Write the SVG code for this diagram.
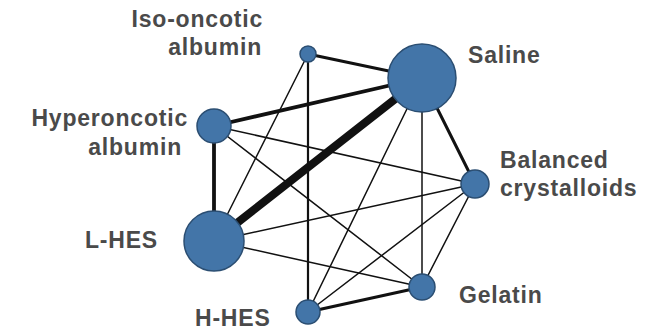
<svg xmlns="http://www.w3.org/2000/svg" width="656" height="332" viewBox="0 0 656 332">
<style>
.e{stroke:#111;fill:none;stroke-linecap:round}
.t1{stroke-width:1.5}
.t2{stroke-width:2.2}
.t3{stroke-width:3}
.t4{stroke-width:3.8}
.t8{stroke-width:8}
.n{fill:#4375a8;stroke:#2b4e72;stroke-width:1.5}
.l{font-family:"Liberation Sans",Arial,sans-serif;font-weight:bold;font-size:23px;letter-spacing:0.8px;fill:#4a4a4a}
.r{text-anchor:end}
</style>
<rect width="656" height="332" fill="#fff"/>
<g id="connectors">
<line class="e t1" x1="308" y1="54" x2="214" y2="241"/>
<line class="e t1" x1="214" y1="126" x2="475" y2="184"/>
<line class="e t1" x1="214" y1="126" x2="422" y2="287"/>
<line class="e t1" x1="214" y1="241" x2="475" y2="184"/>
<line class="e t1" x1="214" y1="241" x2="422" y2="287"/>
<line class="e t1" x1="422" y1="78" x2="422" y2="287"/>
<line class="e t1" x1="422" y1="78" x2="308" y2="312"/>
<line class="e t1" x1="475" y1="184" x2="422" y2="287"/>
<line class="e t1" x1="475" y1="184" x2="308" y2="312"/>
<line class="e t2" x1="308" y1="54" x2="308" y2="312"/>
<line class="e t3" x1="308" y1="54" x2="422" y2="78"/>
<line class="e t3" x1="422" y1="287" x2="308" y2="312"/>
<line class="e t3" x1="422" y1="78" x2="475" y2="184"/>
<line class="e t4" x1="214" y1="126" x2="422" y2="78"/>
<line class="e t4" x1="214" y1="126" x2="214" y2="241"/>
<line class="e t8" x1="214" y1="241" x2="422" y2="78"/>
</g>
<g id="iso"><circle class="n" cx="308" cy="54" r="8"/><text class="l r" x="263" y="27">Iso-oncotic</text><text class="l r" x="262" y="55">albumin</text></g>
<g id="saline"><circle class="n" cx="422" cy="78" r="34"/><text class="l" x="468" y="63">Saline</text></g>
<g id="hyper"><circle class="n" cx="214" cy="126" r="17"/><text class="l r" x="188" y="126">Hyperoncotic</text><text class="l r" x="182" y="155">albumin</text></g>
<g id="balanced"><circle class="n" cx="475" cy="184" r="14"/><text class="l" x="500" y="168">Balanced</text><text class="l" x="500" y="196">crystalloids</text></g>
<g id="lhes"><circle class="n" cx="214" cy="241" r="30"/><text class="l" x="85" y="248">L-HES</text></g>
<g id="gelatin"><circle class="n" cx="422" cy="287" r="13"/><text class="l" x="459" y="303">Gelatin</text></g>
<g id="hhes"><circle class="n" cx="308" cy="312" r="12"/><text class="l" x="195" y="326">H-HES</text></g>
</svg>
